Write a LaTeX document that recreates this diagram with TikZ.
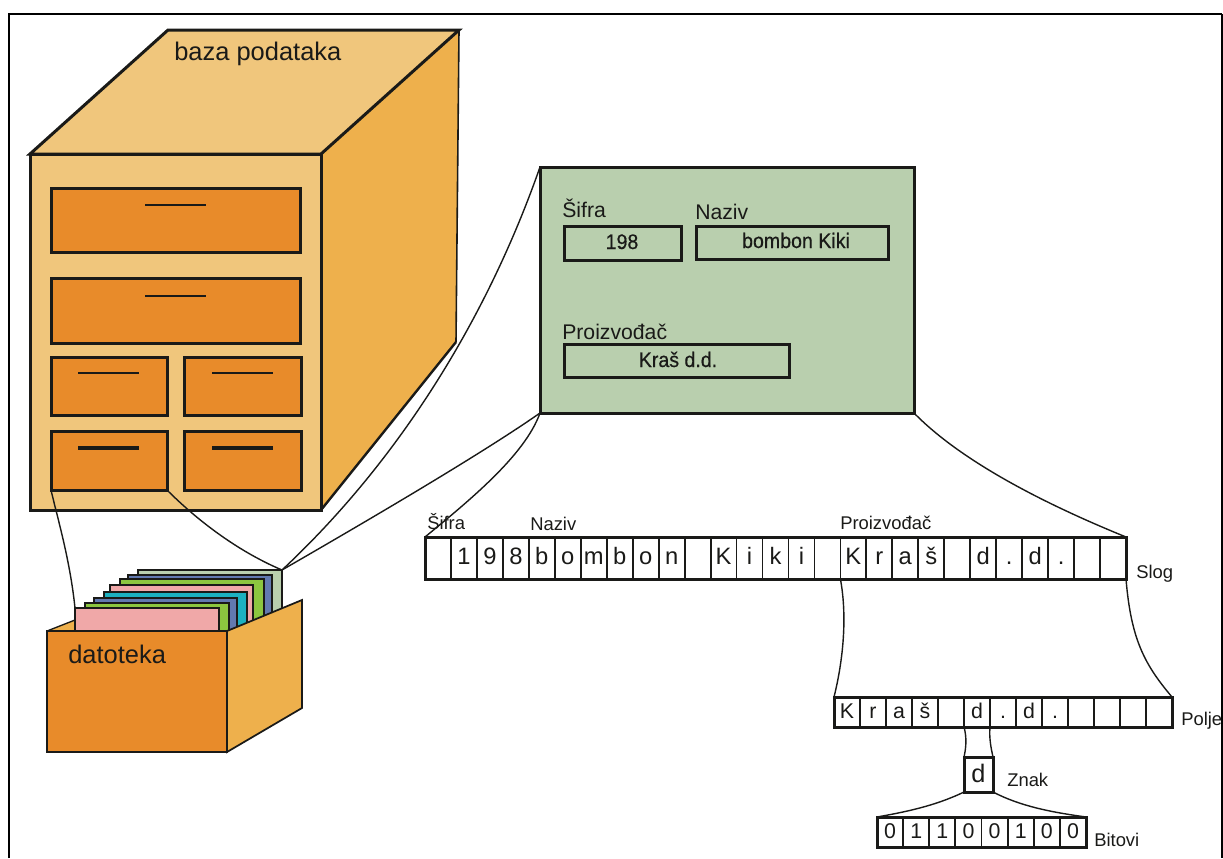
\documentclass[tikz,border=0pt]{standalone}
\usepackage{fontspec}
\setmainfont{Liberation Sans}
\newfontfamily\condf[FakeStretch=0.93,FakeBold=0.5]{Liberation Sans}
\definecolor{ink}{HTML}{1A1A18}
\definecolor{tan}{HTML}{F0C67C}
\definecolor{sidec}{HTML}{EEB04C}
\definecolor{orng}{HTML}{E88B2A}
\definecolor{sage}{HTML}{B9CFAE}
\definecolor{pinkc}{HTML}{F0A8A8}
\definecolor{limec}{HTML}{8CC63F}
\definecolor{bluec}{HTML}{6279B0}
\definecolor{tealc}{HTML}{1CB0C0}
\tikzset{
  x=0.75pt,y=-0.75pt,
  base/.style={inner sep=0pt,outer sep=0pt,anchor=north west},
  drawer/.style={draw=ink,fill=orng,line width=2.25pt},
  handle/.style={draw=ink,line width=2pt},
  panelbox/.style={draw=ink,line width=2.25pt},
  card/.style={draw=ink,line width=1.6pt},
  edge3d/.style={draw=ink,line width=2.25pt,line join=miter},
  link/.style={draw=ink,line width=1.05pt},
  cellA/.style={draw=ink,line width=1.35pt,font=\fontsize{17.8}{18}\selectfont,text height=12.8pt,text depth=3.8pt,text=ink},
  cellB/.style={draw=ink,line width=1.35pt,font=\fontsize{16}{16}\selectfont,text height=11.5pt,text depth=2.5pt,text=ink},
  outline/.style={draw=ink,line width=2.25pt},
  big/.style={font=\fontsize{19.1}{20}\selectfont,anchor=base west,inner sep=0pt,text=ink},
  mid/.style={font=\fontsize{15.9}{18}\selectfont,anchor=base west,inner sep=0pt,text=ink},
  small/.style={font=\fontsize{13.8}{16}\selectfont,anchor=base west,inner sep=0pt,text=ink},
  val/.style={font=\condf\fontsize{15.8}{18}\selectfont,anchor=base,inner sep=0pt,text=ink},
}
% \cbox{style}{name}{x1}{y1}{x2}{y2}{text}
\newcommand{\cbox}[7]{%
  \pgfmathsetmacro{\cw}{(#5-#3)*0.75}%
  \pgfmathsetmacro{\ch}{(#6-#4)*0.75}%
  \node[base,#1,minimum width=\cw pt,minimum height=\ch pt] (#2) at (#3,#4) {#7};}
\begin{document}
\begin{tikzpicture}
\useasboundingbox (0,0) rectangle (1223,858);
\fill[white] (0,0) rectangle (1223,858);
% page frame
\draw[black,line width=1.9pt] (9,858) -- (9,14) -- (1222,14);
\draw[black,line width=0.8pt] (1222,14) -- (1222,858);
% cabinet
\fill[sidec] (321,154) -- (459,30) -- (456,342) -- (321,510) -- cycle;
\draw[ink,line width=1.2pt] (459,30) -- (456,342);
\draw[ink,line width=1.8pt] (456,342) -- (321,510);
\draw[edge3d,fill=tan] (30,154) -- (168,30) -- (459,30) -- (321,154) -- cycle;
\cbox{edge3d,fill=tan}{front}{30}{154}{321}{510}{}
\cbox{drawer}{d1}{51}{188}{300}{252}{}
\cbox{drawer}{d2}{51}{278}{300}{343}{}
\cbox{drawer}{d3}{51}{357}{167}{415}{}
\cbox{drawer}{d4}{184}{357}{301}{415}{}
\cbox{drawer}{d5}{51}{431}{167}{490}{}
\cbox{drawer}{d6}{184}{431}{301}{490}{}
\draw[handle] (145,205) -- (206,205);
\draw[handle] (145,296) -- (206,296);
\draw[handle] (78,373) -- (139,373);
\draw[handle] (212,373) -- (273,373);
\draw[handle,line width=2.8pt] (78,448) -- (139,448);
\draw[handle,line width=2.8pt] (212,448) -- (273,448);
\node[big] (tbaza) at (174,60) {baza podataka};
% file box
\fill[sidec] (47,631) -- (75,620) -- (75,631) -- cycle;
\draw[ink,line width=1pt] (47,631) -- (75,620);
\cbox{card,fill=sage}{c8}{138}{570}{282}{631}{}
\cbox{card,fill=bluec}{c7}{128}{575}{272}{631}{}
\cbox{card,fill=limec}{c6}{120}{579}{264}{631}{}
\cbox{card,fill=pinkc}{c5}{110}{585}{253}{631}{}
\cbox{card,fill=tealc}{c4}{104}{592}{247}{631}{}
\cbox{card,fill=bluec}{c3}{94}{598}{237}{631}{}
\cbox{card,fill=limec}{c2}{85}{603}{229}{631}{}
\cbox{card,fill=pinkc}{c1}{75}{608}{219}{631}{}
\draw[ink,line width=1.3pt,fill=sidec] (227,631) -- (302,600) -- (302,708) -- (227,752) -- cycle;
\cbox{card,fill=orng}{boxfront}{47}{631}{227}{752}{}
\node[big] (tdat) at (68,663) {datoteka};
% green record panel
\cbox{edge3d,fill=sage}{panel}{540}{167}{914}{413}{}
\cbox{panelbox}{b1}{564}{226}{681}{260}{}
\cbox{panelbox}{b2}{696}{226}{888}{259}{}
\cbox{panelbox}{b3}{564}{344}{789}{377}{}
\node[mid] (p1) at (562,217) {Šifra};
\node[mid] (p2) at (695,219) {Naziv};
\node[mid] (p3) at (562,339) {Proizvođač};
\node[val] (v1) at (622,249) {198};
\node[val] (v2) at (796,248) {bombon Kiki};
\node[val] (v3) at (678,367) {Kraš d.d.};
% Slog strip
\foreach \t [count=\i] in {,1,9,8,b,o,m,b,o,n,,K,i,k,i,,K,r,a,š,,d,.,d,.,,}{
  \pgfmathsetmacro{\xa}{425+(\i-1)*25.963}
  \pgfmathsetmacro{\xb}{425+\i*25.963}
  \cbox{cellA}{s\i}{\xa}{537}{\xb}{579}{\t}
}
\cbox{outline}{slog}{425}{537}{1126}{579}{}
% Polje strip
\foreach \t [count=\i] in {K,r,a,š,,d,.,d,.,,,,}{
  \pgfmathsetmacro{\xa}{834+(\i-1)*26}
  \pgfmathsetmacro{\xb}{834+\i*26}
  \cbox{cellB}{q\i}{\xa}{697}{\xb}{727}{\t}
}
\cbox{outline}{polje}{834}{697}{1172}{727}{}
% Znak
\cbox{outline,font=\fontsize{19}{19}\selectfont,text height=13.4pt,text depth=2pt,text=ink}{znak}{964}{757}{993}{792}{d}
% Bitovi strip
\foreach \t [count=\i] in {0,1,1,0,0,1,0,0}{
  \pgfmathsetmacro{\xa}{877+(\i-1)*26.125}
  \pgfmathsetmacro{\xb}{877+\i*26.125}
  \cbox{cellB}{r\i}{\xa}{817}{\xb}{847}{\t}
}
\cbox{outline}{bit}{877}{817}{1086}{847}{}
% labels
\node[small] (l1) at (427,529) {Šifra};
\node[small] (l2) at (530,530) {Naziv};
\node[small] (l3) at (840,529) {Proizvođač};
\node[small] (l4) at (1136,578) {Slog};
\node[small] (l5) at (1181,725) {Polje};
\node[small] (l6) at (1007,786) {Znak};
\node[small] (l7) at (1094,846) {Bitovi};
% connectors
\draw[link] (d5.south west) .. controls (58,520) and (70,560) .. (c1.north west);
\draw[link] (d5.south east) .. controls (195,518) and (235,550) .. (c8.north east);
\draw[link] (panel.north west) .. controls (490,310) and (405,455) .. (c8.north east);
\draw[link] (panel.south west) .. controls (480,455) and (360,525) .. (c8.north east);
\draw[link] (panel.south west) .. controls (525,455) and (470,500) .. (slog.north west);
\draw[link] (panel.south east) .. controls (960,460) and (1040,502) .. (slog.north east);
\draw[link] (s17.south west) .. controls (848,620) and (842,665) .. (polje.north west);
\draw[link] (slog.south east) .. controls (1131,640) and (1145,665) .. (polje.north east);
\draw[link] (q6.south west) .. controls (967,738) and (966,748) .. (znak.north west);
\draw[link] (q6.south east) .. controls (989,738) and (991,748) .. (znak.north east);
\draw[link] (znak.south west) .. controls (935,806) and (905,812) .. (bit.north west);
\draw[link] (znak.south east) .. controls (1020,806) and (1050,812) .. (bit.north east);
\end{tikzpicture}
\end{document}
